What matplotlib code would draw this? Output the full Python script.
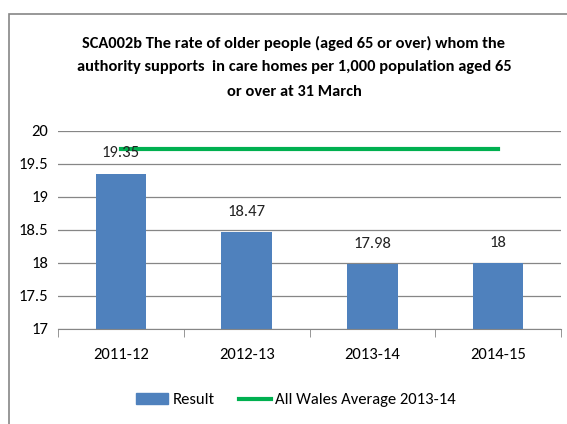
import matplotlib

matplotlib.use("Agg")
import matplotlib.pyplot as plt
from matplotlib.font_manager import fontManager
from matplotlib.lines import Line2D
from matplotlib.patches import Patch, Rectangle
import numpy as np

years = ["2011-12", "2012-13", "2013-14", "2014-15"]
result = [19.35, 18.47, 17.98, 18.0]
result_labels = ["19.35", "18.47", "17.98", "18"]
wales_average = [19.72, 19.72, 19.72, 19.72]
y_ticks = [17, 17.5, 18, 18.5, 19, 19.5, 20]
y_tick_labels = ["17", "17.5", "18", "18.5", "19", "19.5", "20"]
title_lines = [
    "SCA002b The rate of older people (aged 65 or over) whom the",
    "authority supports  in care homes per 1,000 population aged 65",
    "or over at 31 March",
]

# Calibri-like narrow face if one is around
names = {f.name for f in fontManager.ttflist}
family = "DejaVu Sans"
for candidate in ["Carlito", "Liberation Sans Narrow", "Archivo Narrow", "Asap Condensed"]:
    if candidate in names:
        family = candidate
        break
plt.rcParams["font.family"] = [family, "DejaVu Sans"]

W, H = 567, 424
fig = plt.figure(figsize=(W / 100, H / 100), dpi=100)
fig.patches.append(Rectangle((9 / W, -0.1), 1.2, (H - 14) / H + 0.1,
                             transform=fig.transFigure, fill=False,
                             edgecolor="#868686", linewidth=1.2))

ax = fig.add_axes([58 / W, 1 - 329 / H, 503 / W, 198.5 / H])
x = np.arange(len(years))
ax.bar(x, result, width=0.4, color="#4F81BD", zorder=2)
ax.plot(x, wales_average, color="#00B050", linewidth=3.0, zorder=3)
for xi, value, text in zip(x, result, result_labels):
    ax.annotate(text, (xi, value), xytext=(0, 14.5), textcoords="offset points",
                ha="center", va="center", fontsize=12, color="#222222")

ax.set_ylim(17, 20)
ax.set_xlim(-0.5, len(years) - 0.5)
ax.set_yticks(y_ticks)
ax.set_yticklabels(y_tick_labels, fontsize=12)
ax.set_xticks(x)
ax.set_xticklabels(years, fontsize=12)
ax.set_xticks(np.arange(len(years) + 1) - 0.5, minor=True)
ax.tick_params(axis="x", which="major", length=0, pad=14)
ax.tick_params(axis="x", which="minor", length=6, color="#868686")
ax.tick_params(axis="y", length=0, pad=7)
ax.yaxis.grid(True, color="#868686", linewidth=0.9, zorder=0)
for side in ["top", "right", "left"]:
    ax.spines[side].set_visible(False)
ax.spines["bottom"].set_color("#868686")
ax.set_axisbelow(True)

# title: one text per line, size fitted so line 1 is ~420 px wide
renderer = fig.canvas.get_renderer()
probe = fig.text(0, 0, title_lines[0], fontsize=10, fontweight="bold")
title_size = 10 * 420 / probe.get_window_extent(renderer).width
probe.remove()
for line, y_px in zip(title_lines, [43, 67, 92]):
    fig.text(294 / W, 1 - y_px / H, line, ha="center", va="center",
             fontsize=title_size, fontweight="bold")

handles = [Patch(color="#4F81BD"), Line2D([], [], color="#00B050", linewidth=3.0)]
fig.legend(handles, ["Result", "All Wales Average 2013-14"], loc="center",
           bbox_to_anchor=(296 / W, 1 - 400 / H), ncol=2, frameon=False,
           fontsize=12, handlelength=1.95, columnspacing=1.45, handletextpad=0.25)

fig.savefig("out.png", dpi=100)
